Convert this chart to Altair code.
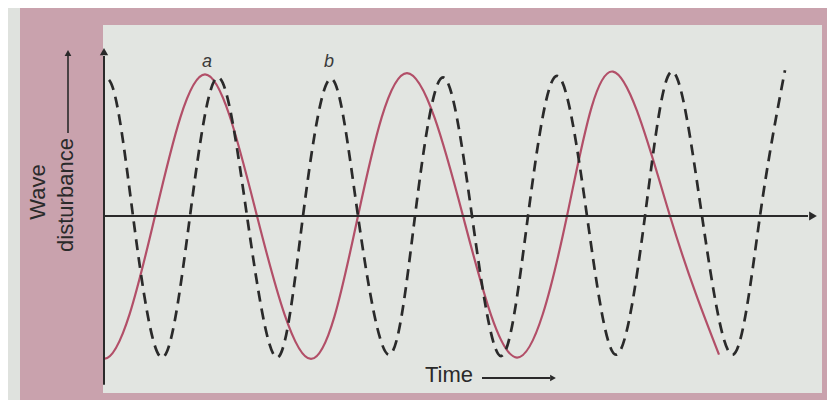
import altair as alt
import pandas as pd

# Solid (red) wave: turning points and zero crossings.
# The first entry is the crossing just left of the axis (hidden by clipping),
# so that the curve leaves its first trough flat, as in the figure.
red_t = [-5.1, 0.0, 5.1, 10.1, 15.3, 20.7, 25.4, 30.3, 35.9, 41.3, 46.3, 50.9, 56.6, 61.5]
red_d = [0.0, -1.0, 0.0, 0.99, 0.0, -1.0, 0.0, 1.0, 0.0, -0.99, 0.0, 1.01, 0.0, -0.97]

# Dashed wave: turning points and zero crossings
# (first entry again just left of the axis, hidden by clipping).
dash_t = [-2.6, 0.3, 2.9, 5.8, 8.6, 11.4, 14.3, 17.3, 19.9, 22.7, 25.4, 28.5, 31.1,
          33.9, 36.8, 39.7, 42.4, 45.3, 48.3, 51.2, 54.1, 56.8, 59.8, 62.9,
          65.6, 68.1]
dash_d = [0.0, 0.96, 0.0, -0.99, 0.0, 0.97, 0.0, -0.99, 0.0, 0.96, 0.0, -0.97, 0.0,
          0.97, 0.0, -0.98, 0.0, 0.98, 0.0, -0.97, 0.0, 1.01, 0.0, -0.97, 0.0,
          1.02]

# Peak labels
peak_labels = ["a", "b"]
peak_t = [10.3, 22.5]

red = pd.DataFrame({"t": red_t, "d": red_d})
dashed = pd.DataFrame({"t": dash_t, "d": dash_d})
labels = pd.DataFrame({"t": peak_t, "label": peak_labels})
one = pd.DataFrame({"k": [0]})

xs = alt.Scale(domain=[-0.1, 71.8], nice=False, zero=False)
ys = alt.Scale(domain=[-1.238, 1.336], nice=False, zero=False)

INK = "#2a2a2a"
FONT = "Liberation Sans"


def X(v):
    return alt.X(datum=v, type="quantitative", scale=xs, axis=None)


def Y(v):
    return alt.Y(datum=v, type="quantitative", scale=ys, axis=None)


strip = alt.Chart(one).mark_rect(color="#dfe2de").encode(
    x=alt.value(-96), x2=alt.value(-83), y=alt.value(-17), y2=alt.value(375)
)

y_axis = alt.Chart(one).mark_rule(color=INK, strokeWidth=2).encode(
    x=X(0), y=Y(-1.18), y2=alt.Y2(datum=1.12)
)
y_head = alt.Chart(one).mark_point(shape="triangle-up", filled=True, size=70,
                                   color=INK, opacity=1).encode(x=X(0), y=Y(1.15))

x_axis = alt.Chart(one).mark_rule(color=INK, strokeWidth=2.2).encode(
    x=X(0), x2=alt.X2(datum=70.4), y=Y(0)
)
x_head = alt.Chart(one).mark_point(shape="triangle-right", filled=True, size=80,
                                   color=INK, opacity=1).encode(x=X(70.9), y=Y(0))

red_line = alt.Chart(red).mark_line(interpolate="natural", color="#b24f68",
                                    strokeWidth=2.2, clip=True).encode(
    x=alt.X("t:Q", scale=xs, axis=None),
    y=alt.Y("d:Q", scale=ys, axis=None),
)

dash_line = alt.Chart(dashed).mark_line(interpolate="natural", color=INK,
                                        strokeWidth=2.7, strokeDash=[11, 7],
                                        clip=True).encode(
    x=alt.X("t:Q", scale=xs, axis=None),
    y=alt.Y("d:Q", scale=ys, axis=None),
)

peak_text = alt.Chart(labels).mark_text(font=FONT, fontSize=18, fontStyle="italic",
                                        color="#3a3a3a").encode(
    x=alt.X("t:Q", scale=xs, axis=None),
    y=Y(1.08),
    text="label:N",
)

time_text = alt.Chart(one).mark_text(text="Time", font=FONT, fontSize=22,
                                     align="left", baseline="middle",
                                     color=INK).encode(x=X(32.1), y=Y(-1.11))
time_arrow = alt.Chart(one).mark_rule(color=INK, strokeWidth=2).encode(
    x=X(37.8), x2=alt.X2(datum=44.6), y=Y(-1.133)
)
time_head = alt.Chart(one).mark_point(shape="triangle-right", filled=True, size=45,
                                      color=INK, opacity=1).encode(x=X(44.9), y=Y(-1.133))

wave_text = alt.Chart(one).mark_text(text="Wave", font=FONT, fontSize=22, angle=270,
                                     align="center", baseline="middle",
                                     color=INK).encode(x=alt.value(-65), y=alt.value(167))
dist_text = alt.Chart(one).mark_text(text="disturbance", font=FONT, fontSize=22,
                                     angle=270, align="center", baseline="middle",
                                     color=INK).encode(x=alt.value(-37), y=alt.value(170))
title_arrow = alt.Chart(one).mark_rule(color=INK, strokeWidth=1.6).encode(
    x=alt.value(-35), y=alt.value(31), y2=alt.value(108)
)
title_head = alt.Chart(one).mark_point(shape="triangle-up", filled=True, size=45,
                                       color=INK, opacity=1).encode(
    x=alt.value(-35), y=alt.value(28)
)

chart = alt.layer(
    strip, red_line, dash_line, y_axis, y_head, x_axis, x_head, peak_text,
    time_text, time_arrow, time_head, wave_text, dist_text, title_arrow, title_head
).properties(
    width=719,
    height=368,
    padding={"left": 95, "top": 17, "right": 5, "bottom": 7},
    autosize=alt.AutoSizeParams(type="none"),
    background="#c9a2ad",
).configure_view(fill="#e2e5e1", stroke=None)

chart.save("out.html", embed_options={"renderer": "svg", "actions": False})
